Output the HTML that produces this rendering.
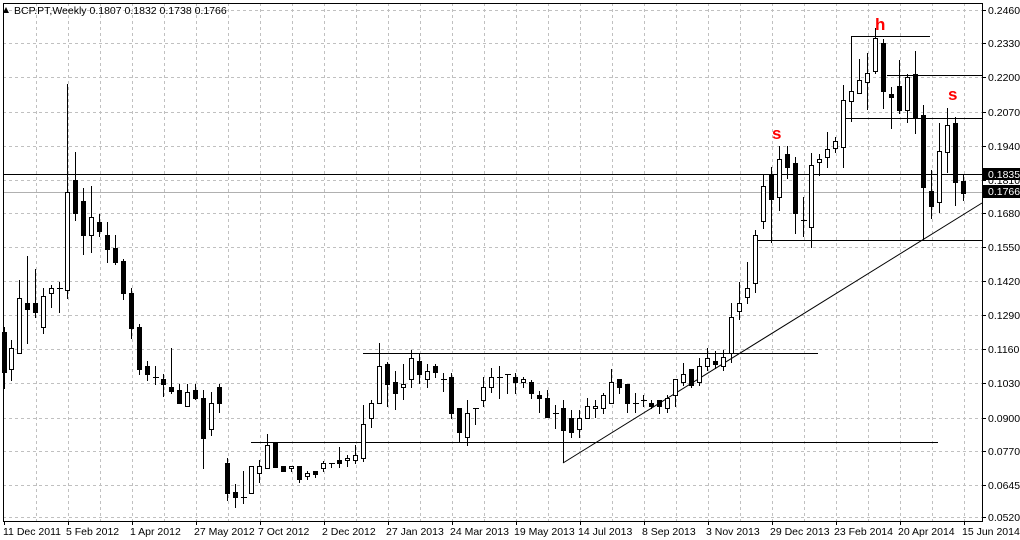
<!DOCTYPE html>
<html><head><meta charset="utf-8"><style>
html,body{margin:0;padding:0;background:#fff;}
svg{display:block;font-family:"Liberation Sans",sans-serif;}
</style></head><body>
<svg width="1020" height="540" viewBox="0 0 1020 540" xmlns="http://www.w3.org/2000/svg">
<rect width="1020" height="540" fill="#fff"/>
<g stroke="#c0c0c0" stroke-width="1" stroke-dasharray="3,3" shape-rendering="crispEdges">
<path d="M3 10.5H982M3 43.5H982M3 77.5H982M3 112.5H982M3 146.5H982M3 180.5H982M3 213.5H982M3 247.5H982M3 281.5H982M3 315.5H982M3 349.5H982M3 383.5H982M3 418.5H982M3 451.5H982M3 485.5H982M3 517.5H982"/>
<path d="M36.5 3V521M68.5 3V521M100.5 3V521M132.5 3V521M164.5 3V521M196.5 3V521M228.5 3V521M260.5 3V521M292.5 3V521M324.5 3V521M356.5 3V521M388.5 3V521M420.5 3V521M452.5 3V521M484.5 3V521M516.5 3V521M548.5 3V521M580.5 3V521M612.5 3V521M644.5 3V521M676.5 3V521M708.5 3V521M740.5 3V521M772.5 3V521M804.5 3V521M836.5 3V521M868.5 3V521M900.5 3V521M932.5 3V521M964.5 3V521"/>
</g>
<g stroke="#000" stroke-width="1" fill="none" shape-rendering="crispEdges">
<path d="M3.5 174.5H982" />
<path d="M3 192.5H982" stroke="#b0b0b0"/>
<path d="M851.5 36.5H930M851.5 36V122M887 75.5H982M845 118.5H982M757 240.5H982M251 442.5H938M363 353.5H818M563.5 442V463"/>
</g>
<path d="M563 463L982 203" stroke="#000" stroke-width="1" fill="none"/>
<g stroke="#000" stroke-width="1" fill="none" shape-rendering="crispEdges">
<path d="M4.5 327V389M11.5 340V381M19.5 280V354M27.5 256V344M35.5 269V318M43.5 288V334M51.5 285V308M59.5 282V313M67.5 84V299M75.5 152V221M83.5 188V255M91.5 186V253M99.5 214V237M107.5 222V263M115.5 235V265M123.5 259V300M131.5 288V339M139.5 324V375M147.5 361V381M155.5 366V385M163.5 374V397M171.5 348V394M179.5 384V404M187.5 384V407M195.5 384V400M203.5 390V469M211.5 392V436M219.5 384V413M227.5 458V501M235.5 484V508M243.5 471V504M251.5 466V494M259.5 460V483M267.5 434V469M275.5 443V468M283.5 466V472M291.5 466V472M299.5 466V483M307.5 471V480M315.5 471V478M323.5 461V472M331.5 463V468M339.5 447V468M347.5 455V467M355.5 445V464M363.5 405V462M371.5 400V428M379.5 343V404M387.5 362V407M395.5 371V410M403.5 364V400M411.5 350V388M419.5 353V384M427.5 364V388M435.5 364V378M443.5 373V392M451.5 373V419M459.5 408V443M467.5 400V446M475.5 408V425M483.5 377V407M491.5 368V393M499.5 366V399M507.5 374V394M515.5 373V394M523.5 377V388M531.5 380V399M539.5 391V413M547.5 390V418M555.5 405V429M563.5 400V444M571.5 410V438M579.5 410V438M587.5 398V419M595.5 400V418M603.5 393V414M611.5 369V404M619.5 379V394M627.5 384V413M635.5 393V413M643.5 395V407M651.5 400V409M659.5 400V414M667.5 395V413M675.5 379V407M683.5 363V386M691.5 369V388M699.5 358V386M707.5 348V371M715.5 351V369M723.5 350V371M731.5 303V363M739.5 282V320M747.5 262V304M755.5 230V293M763.5 175V229M771.5 167V243M779.5 146V211M787.5 146V179M795.5 157V234M803.5 197V237M811.5 153V248M819.5 154V176M827.5 132V168M835.5 137V153M843.5 85V168M851.5 80V113M859.5 59V94M867.5 53V110M875.5 28V74M883.5 39V109M891.5 87V129M899.5 60V114M907.5 74V123M915.5 51V134M923.5 105V241M931.5 170V219M939.5 123V213M947.5 108V173M955.5 117V206M963.5 174V201"/>
<path d="M57 288.5h6M153 377.5h6M241 497.5h6M329 463.5h6M441 379.5h6M473 408.5h6M497 377.5h6M505 374.5h6M553 413.5h6M633 403.5h6M641 400.5h6M801 220.5h6"/>
</g>
<g stroke="#000" stroke-width="1" fill="#000">
<rect x="2.5" y="332.5" width="4" height="40"/><rect x="25.5" y="303.5" width="4" height="6"/><rect x="33.5" y="303.5" width="4" height="9"/><rect x="73.5" y="180.5" width="4" height="33"/><rect x="81.5" y="201.5" width="4" height="34"/><rect x="97.5" y="222.5" width="4" height="9"/><rect x="105.5" y="235.5" width="4" height="14"/><rect x="113.5" y="248.5" width="4" height="14"/><rect x="121.5" y="261.5" width="4" height="32"/><rect x="129.5" y="293.5" width="4" height="35"/><rect x="137.5" y="327.5" width="4" height="42"/><rect x="145.5" y="366.5" width="4" height="8"/><rect x="161.5" y="379.5" width="4" height="5"/><rect x="169.5" y="387.5" width="4" height="4"/><rect x="177.5" y="390.5" width="4" height="13"/><rect x="193.5" y="390.5" width="4" height="8"/><rect x="201.5" y="398.5" width="4" height="40"/><rect x="217.5" y="387.5" width="4" height="16"/><rect x="225.5" y="463.5" width="4" height="30"/><rect x="233.5" y="492.5" width="4" height="5"/><rect x="273.5" y="443.5" width="4" height="24"/><rect x="281.5" y="466.5" width="4" height="5"/><rect x="297.5" y="466.5" width="4" height="13"/><rect x="313.5" y="471.5" width="4" height="3"/><rect x="337.5" y="460.5" width="4" height="3"/><rect x="385.5" y="364.5" width="4" height="20"/><rect x="393.5" y="382.5" width="4" height="11"/><rect x="417.5" y="361.5" width="4" height="13"/><rect x="433.5" y="366.5" width="4" height="6"/><rect x="449.5" y="377.5" width="4" height="36"/><rect x="457.5" y="408.5" width="4" height="24"/><rect x="513.5" y="377.5" width="4" height="5"/><rect x="529.5" y="382.5" width="4" height="11"/><rect x="537.5" y="395.5" width="4" height="3"/><rect x="545.5" y="398.5" width="4" height="19"/><rect x="561.5" y="408.5" width="4" height="22"/><rect x="569.5" y="418.5" width="4" height="14"/><rect x="617.5" y="379.5" width="4" height="8"/><rect x="625.5" y="384.5" width="4" height="19"/><rect x="649.5" y="403.5" width="4" height="3"/><rect x="657.5" y="400.5" width="4" height="6"/><rect x="689.5" y="369.5" width="4" height="16"/><rect x="713.5" y="361.5" width="4" height="3"/><rect x="769.5" y="175.5" width="4" height="24"/><rect x="785.5" y="154.5" width="4" height="13"/><rect x="793.5" y="163.5" width="4" height="50"/><rect x="881.5" y="43.5" width="4" height="48"/><rect x="889.5" y="94.5" width="4" height="3"/><rect x="897.5" y="86.5" width="4" height="24"/><rect x="913.5" y="74.5" width="4" height="44"/><rect x="921.5" y="115.5" width="4" height="72"/><rect x="929.5" y="191.5" width="4" height="15"/><rect x="953.5" y="123.5" width="4" height="59"/><rect x="961.5" y="181.5" width="4" height="12"/>
</g>
<g stroke="#000" stroke-width="1" fill="#fff">
<rect x="9.5" y="348.5" width="4" height="21"/><rect x="17.5" y="298.5" width="4" height="55"/><rect x="41.5" y="296.5" width="4" height="31"/><rect x="49.5" y="288.5" width="4" height="5"/><rect x="65.5" y="192.5" width="4" height="98"/><rect x="89.5" y="217.5" width="4" height="18"/><rect x="185.5" y="392.5" width="4" height="14"/><rect x="209.5" y="403.5" width="4" height="26"/><rect x="249.5" y="466.5" width="4" height="27"/><rect x="257.5" y="466.5" width="4" height="7"/><rect x="265.5" y="445.5" width="4" height="23"/><rect x="289.5" y="466.5" width="4" height="2"/><rect x="305.5" y="473.5" width="4" height="3"/><rect x="321.5" y="463.5" width="4" height="5"/><rect x="345.5" y="458.5" width="4" height="2"/><rect x="353.5" y="455.5" width="4" height="5"/><rect x="361.5" y="424.5" width="4" height="34"/><rect x="369.5" y="403.5" width="4" height="15"/><rect x="377.5" y="366.5" width="4" height="37"/><rect x="401.5" y="384.5" width="4" height="3"/><rect x="409.5" y="358.5" width="4" height="21"/><rect x="425.5" y="371.5" width="4" height="8"/><rect x="465.5" y="413.5" width="4" height="24"/><rect x="481.5" y="387.5" width="4" height="13"/><rect x="489.5" y="377.5" width="4" height="10"/><rect x="521.5" y="379.5" width="4" height="3"/><rect x="577.5" y="418.5" width="4" height="11"/><rect x="585.5" y="406.5" width="4" height="12"/><rect x="593.5" y="406.5" width="4" height="2"/><rect x="601.5" y="395.5" width="4" height="13"/><rect x="609.5" y="382.5" width="4" height="21"/><rect x="665.5" y="398.5" width="4" height="10"/><rect x="673.5" y="379.5" width="4" height="16"/><rect x="681.5" y="374.5" width="4" height="8"/><rect x="697.5" y="366.5" width="4" height="16"/><rect x="705.5" y="358.5" width="4" height="8"/><rect x="721.5" y="357.5" width="4" height="9"/><rect x="729.5" y="317.5" width="4" height="36"/><rect x="737.5" y="303.5" width="4" height="8"/><rect x="745.5" y="288.5" width="4" height="9"/><rect x="753.5" y="235.5" width="4" height="48"/><rect x="761.5" y="186.5" width="4" height="35"/><rect x="777.5" y="159.5" width="4" height="38"/><rect x="809.5" y="165.5" width="4" height="62"/><rect x="817.5" y="159.5" width="4" height="3"/><rect x="825.5" y="149.5" width="4" height="8"/><rect x="833.5" y="141.5" width="4" height="7"/><rect x="841.5" y="100.5" width="4" height="47"/><rect x="849.5" y="91.5" width="4" height="10"/><rect x="857.5" y="80.5" width="4" height="13"/><rect x="865.5" y="73.5" width="4" height="9"/><rect x="873.5" y="38.5" width="4" height="33"/><rect x="905.5" y="77.5" width="4" height="33"/><rect x="937.5" y="151.5" width="4" height="51"/><rect x="945.5" y="125.5" width="4" height="27"/>
</g>
<g fill="#ff0000" font-size="17" font-weight="bold" font-family="Liberation Sans,sans-serif">
<text x="772" y="139">s</text><text x="875" y="30">h</text><text x="948" y="100">s</text>
</g>
<g stroke="#000" stroke-width="1" fill="none" shape-rendering="crispEdges">
<rect x="3.5" y="3.5" width="979" height="518"/>
<path d="M982 10.5h4M982 43.5h4M982 77.5h4M982 112.5h4M982 146.5h4M982 180.5h4M982 213.5h4M982 247.5h4M982 281.5h4M982 315.5h4M982 349.5h4M982 383.5h4M982 418.5h4M982 451.5h4M982 485.5h4M982 517.5h4"/>
<path d="M4.5 521v4M68.5 521v4M132.5 521v4M196.5 521v4M260.5 521v4M324.5 521v4M388.5 521v4M452.5 521v4M516.5 521v4M580.5 521v4M644.5 521v4M708.5 521v4M772.5 521v4M836.5 521v4M900.5 521v4M964.5 521v4"/>
</g>
<g font-size="10.5" fill="#000">
<text x="988" y="14">0.2460</text><text x="988" y="47">0.2330</text><text x="988" y="81">0.2200</text><text x="988" y="116">0.2070</text><text x="988" y="150">0.1940</text><text x="988" y="184">0.1810</text><text x="988" y="217">0.1680</text><text x="988" y="251">0.1550</text><text x="988" y="285">0.1420</text><text x="988" y="319">0.1290</text><text x="988" y="353">0.1160</text><text x="988" y="387">0.1030</text><text x="988" y="422">0.0900</text><text x="988" y="455">0.0770</text><text x="988" y="489">0.0645</text><text x="988" y="521">0.0520</text>
</g>
<rect x="983" y="168" width="37" height="12" fill="#000"/>
<text x="988" y="178" font-size="10.5" fill="#fff">0.1835</text>
<rect x="983" y="185" width="37" height="13" fill="#000"/>
<text x="988" y="195" font-size="10.5" fill="#fff">0.1766</text>
<g font-size="10.5" fill="#000">
<text x="3" y="535">11 Dec 2011</text><text x="66" y="535">5 Feb 2012</text><text x="130" y="535">1 Apr 2012</text><text x="194" y="535">27 May 2012</text><text x="258" y="535">7 Oct 2012</text><text x="322" y="535">2 Dec 2012</text><text x="386" y="535">27 Jan 2013</text><text x="450" y="535">24 Mar 2013</text><text x="514" y="535">19 May 2013</text><text x="578" y="535">14 Jul 2013</text><text x="642" y="535">8 Sep 2013</text><text x="706" y="535">3 Nov 2013</text><text x="770" y="535">29 Dec 2013</text><text x="834" y="535">23 Feb 2014</text><text x="898" y="535">20 Apr 2014</text><text x="962" y="535">15 Jun 2014</text>
</g>
<path d="M6 7l3 6h-6z" fill="#000"/>
<text x="14" y="14" font-size="10.5" fill="#000">BCP.PT,Weekly  0.1807 0.1832 0.1738 0.1766</text>
</svg>
</body></html>
